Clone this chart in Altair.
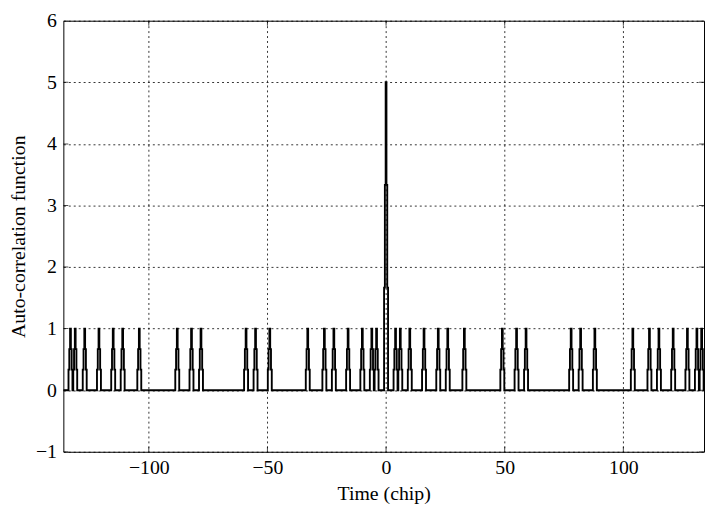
import altair as alt
import pandas as pd

pulse_lags = [-133, -131, -127, -121, -115, -111, -104, -88, -82, -78,
              -59, -55, -49, -33, -26, -22, -16, -10, -6, -4,
              0,
              4, 6, 10, 16, 22, 26, 33, 49, 55, 59,
              78, 82, 88, 104, 111, 115, 121, 127, 131, 133]
pulse_heights = [1, 1, 1, 1, 1, 1, 1, 1, 1, 1,
                 1, 1, 1, 1, 1, 1, 1, 1, 1, 1,
                 5,
                 1, 1, 1, 1, 1, 1, 1, 1, 1, 1,
                 1, 1, 1, 1, 1, 1, 1, 1, 1, 1]
# stair-step profile of one pulse, sampled every 1/3 chip (relative levels)
profile_offsets = [-3, -2, -1, 0, 1, 2, 3]          # in 1/3 chip
profile_levels = [0, 1 / 3, 2 / 3, 1, 2 / 3, 1 / 3, 0]
samples_per_chip = 3

x_range = [-136, 134]
x_ticks = [-100, -50, 0, 50, 100]
y_range = [-1, 6]
y_ticks = [-1, 0, 1, 2, 3, 4, 5, 6]

vals = {}
for c, h in zip(pulse_lags, pulse_heights):
    for o, lv in zip(profile_offsets, profile_levels):
        k = c * samples_per_chip + o
        vals[k] = vals.get(k, 0) + h * lv
rows = []
for k in range(x_range[0] * samples_per_chip, x_range[1] * samples_per_chip + 1):
    rows.append({"t": k / samples_per_chip, "v": vals.get(k, 0)})
df = pd.DataFrame(rows)

W, H = 648, 436
FONT = "Liberation Serif"

xs = alt.Scale(domain=x_range, nice=False, zero=False)
ys = alt.Scale(domain=y_range, nice=False, zero=False)

line = alt.Chart(df).mark_line(color="black", strokeWidth=1.9,
                               interpolate="step", clip=True).encode(
    x=alt.X("t:Q", scale=xs,
            axis=alt.Axis(values=x_ticks, format="d", title="Time (chip)", grid=True,
                          labelPadding=6, titlePadding=6)),
    y=alt.Y("v:Q", scale=ys,
            axis=alt.Axis(values=y_ticks, format="d", title="Auto-correlation function",
                          grid=True, labelPadding=7, titlePadding=7)),
)

xt = pd.DataFrame({"t": x_ticks})
yt = pd.DataFrame({"v": y_ticks})
tick_b = alt.Chart(xt).mark_tick(color="black", size=10, thickness=1, clip=True).encode(
    x=alt.X("t:Q", scale=xs), y=alt.value(H))
tick_t = alt.Chart(xt).mark_tick(color="black", size=10, thickness=1, clip=True).encode(
    x=alt.X("t:Q", scale=xs), y=alt.value(0))
tick_l = alt.Chart(yt).mark_tick(color="black", size=10, thickness=1, clip=True).encode(
    y=alt.Y("v:Q", scale=ys), x=alt.value(0))
tick_r = alt.Chart(yt).mark_tick(color="black", size=10, thickness=1, clip=True).encode(
    y=alt.Y("v:Q", scale=ys), x=alt.value(W))

chart = alt.layer(line, tick_b, tick_t, tick_l, tick_r).properties(
    width=W, height=H,
    padding={"left": 56, "top": 10, "right": 1, "bottom": 54},
    autosize=alt.AutoSizeParams(type="none"),
    background="white",
).configure_view(
    stroke="black", strokeWidth=1
).configure_axis(
    labelFont=FONT, labelFontSize=20, labelColor="black",
    titleFont=FONT, titleFontSize=20, titleFontWeight="normal", titleColor="black",
    gridColor="black", gridDash=[2, 3], gridOpacity=0.8, gridWidth=1,
    domain=False, ticks=False,
)

chart.save("out.html", embed_options={"renderer": "svg", "actions": False})
